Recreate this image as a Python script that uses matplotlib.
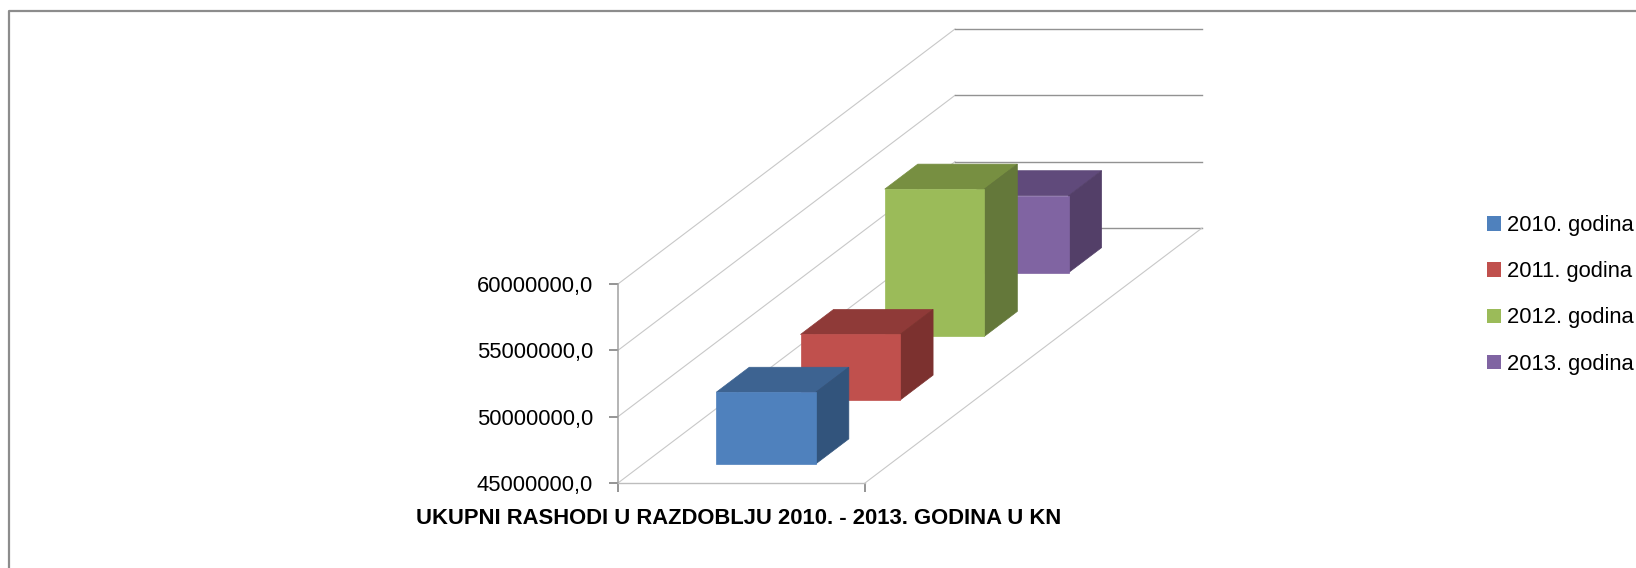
import matplotlib
matplotlib.use("Agg")
import matplotlib.pyplot as plt
from matplotlib.patches import Polygon, Patch
from matplotlib.lines import Line2D

plt.rcParams['font.family'] = ['Liberation Sans', 'DejaVu Sans']

series = ['2010. godina', '2011. godina', '2012. godina', '2013. godina']
values = [50400000, 49950000, 56100000, 50800000]
ytick_values = [45000000, 50000000, 55000000, 60000000]
ytick_labels = ['45000000,0', '50000000,0', '55000000,0', '60000000,0']
title = 'UKUPNI RASHODI U RAZDOBLJU 2010. - 2013. GODINA U KN'

front_colors = ['#4F81BD', '#C0504D', '#9BBB59', '#8064A2']
top_colors = ['#3D6391', '#8F3A38', '#778F41', '#604A7B']
side_colors = ['#32547C', '#7C312F', '#64783A', '#533F68']

W, H = 1636, 568
fig = plt.figure(figsize=(W / 100, H / 100), dpi=100, facecolor='white')

# plot box of the front wall edge, in pixels
L, R, B, T = 618, 865, 483, 284
ax = fig.add_axes([L / W, 1 - B / H, (R - L) / W, (B - T) / H])
ax.set_xlim(0, 1)
ax.set_ylim(45000000, 60000000)
ax.patch.set_visible(False)

# oblique depth vector: one full depth unit, in data units
unit_x = 337 / (R - L)
unit_y = 255 / (B - T) * 15000000


def proj(x, d, v):
    return (x + d * unit_x, v + d * unit_y)


grid_side = '#C8C8C8'
grid_back = '#929292'
for v in ytick_values:
    xs, ys = zip(proj(0, 0, v), proj(0, 1, v), proj(1, 1, v))
    ax.plot(xs[:2], ys[:2], color=grid_side, lw=0.8, clip_on=False, zorder=1)
    ax.plot(xs[1:], ys[1:], color=grid_back, lw=1.0, clip_on=False, zorder=1)
xs, ys = zip(proj(1, 0, 45000000), proj(1, 1, 45000000))
ax.plot(xs, ys, color=grid_side, lw=0.8, clip_on=False, zorder=1)

bar_x = 0.2955
bar_w = 0.403
bar_depth = 0.098
base = 45000000
n = len(series)
for i in reversed(range(n)):
    d0 = (i + 0.3) / n
    d1 = d0 + bar_depth
    v = values[i]
    z = 5 + (n - i)
    x0, x1 = bar_x, bar_x + bar_w
    top = [proj(x0, d0, v), proj(x1, d0, v), proj(x1, d1, v), proj(x0, d1, v)]
    side = [proj(x1, d0, base), proj(x1, d1, base), proj(x1, d1, v), proj(x1, d0, v)]
    front = [proj(x0, d0, base), proj(x1, d0, base), proj(x1, d0, v), proj(x0, d0, v)]
    for pts, col in ((top, top_colors[i]), (side, side_colors[i]), (front, front_colors[i])):
        ax.add_patch(Polygon(pts, closed=True, facecolor=col, edgecolor=col,
                             lw=0.5, clip_on=False, zorder=z, joinstyle='miter'))

for s in ('top', 'right'):
    ax.spines[s].set_visible(False)
ax.spines['left'].set_color('#A0A0A0')
ax.spines['left'].set_linewidth(1.1)
ax.spines['bottom'].set_color('#BDBDBD')
ax.spines['bottom'].set_linewidth(1.0)
ax.set_yticks(ytick_values)
ax.set_yticklabels(ytick_labels, fontsize=15.8, color='black')
ax.set_xticks([0, 1])
ax.set_xticklabels(['', ''])
ax.tick_params(axis='y', length=6.5, width=1.3, color='#8C8C8C', pad=11.5)
ax.tick_params(axis='x', length=6.5, width=1.3, color='#8C8C8C', pad=0)

fig.text(739 / W, 1 - 518 / H, title, ha='center', va='center', fontsize=15.8,
         fontweight='bold', color='black')

handles = [Patch(facecolor=c, edgecolor='none', label=s) for c, s in zip(front_colors, series)]
fig.legend(handles=handles, loc='upper left', bbox_to_anchor=(1487 / W, 1 - 215 / H),
           frameon=False, fontsize=15.8, handlelength=0.64, handleheight=0.64,
           handletextpad=0.27, labelspacing=1.15, borderpad=0, borderaxespad=0,
           labelcolor='black')

# outer chart frame
fig.add_artist(Line2D([9 / W, 9 / W, 1], [0, 1 - 11 / H, 1 - 11 / H],
                      color='#8C8C8C', lw=1.6, transform=fig.transFigure))

fig.savefig('out.png', dpi=100, facecolor='white')
